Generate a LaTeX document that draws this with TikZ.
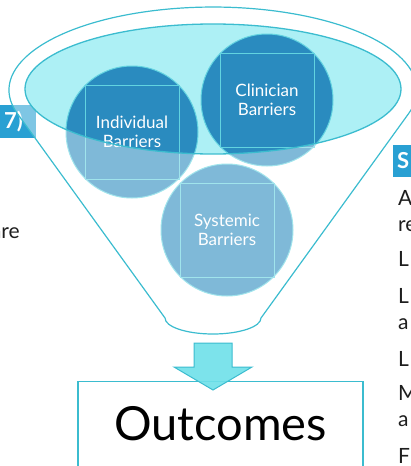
\documentclass[tikz,border=0pt]{standalone}
\usepackage{fontspec}
\setmainfont{Lato}

\definecolor{funnelline}{HTML}{3BBCCF}
\definecolor{mouth}{HTML}{ADF0F5}
\definecolor{barrier}{HTML}{2A8BBF}
\definecolor{rim}{HTML}{62D3E0}
\definecolor{arrowfill}{HTML}{6EE0E9}
\definecolor{tagblue}{HTML}{29A0D3}
\definecolor{bodytext}{HTML}{1E1E1E}

\begin{document}
\begin{tikzpicture}[x=1pt,y=-1pt,
  barrier/.style={circle,draw=rim,line width=1pt,fill=barrier,minimum size=132pt,inner sep=0pt,
    text=white,align=center,font=\fontsize{17}{19}\selectfont},
  tag/.style={fill=tagblue,text=white,inner ysep=0pt,minimum height=33pt,
    font=\fontsize{22}{26}\selectfont\bfseries},
  side/.style={text=bodytext,inner sep=0pt,anchor=base west,font=\fontsize{21}{26}\selectfont}]

\useasboundingbox (0,0) rectangle (410,466);

% headings and text either side of the funnel
\node[tag,anchor=east,inner xsep=13pt] (yearTag) at (36,121.5) {7)};
\node[tag,anchor=west,inner xsep=4pt,minimum height=32pt] (sTag) at (393,161) {S};
\node[side,anchor=base east] (leftText) at (20,238) {are};
\foreach \y/\t [count=\i] in {205/A,231/re,266/L,303/L,329/a,366/L,400/M,426/a,463/F}
  \node[side] (right\i) at (398,\y) {\t};

% mouth of the funnel
\fill[mouth] (213,89) ellipse[x radius=188,y radius=65];

% the three barriers
\node[barrier] (individual) at (132,132) {Individual\\Barriers};
\node[barrier] (clinician) at (267,100) {Clinician\\Barriers};
\node[barrier] (systemic) at (227,230) {Systemic\\Barriers};
\foreach \c in {individual,clinician,systemic}
  \draw[rim,line width=0.8pt] (\c.north west) rectangle (\c.south east);

% funnel body: white glaze outside the mouth, then the outline
\coordinate (lipL) at (17.1,113.2);
\coordinate (neckR) at (261,318);
\fill[white,fill opacity=0.4,even odd rule]
  (lipL) arc[start angle=163.8,end angle=376.2,x radius=204,y radius=83]
  -- (neckR) arc[start angle=0,end angle=180,x radius=48,y radius=16] -- cycle
  (213,89) ellipse[x radius=188,y radius=65];
\draw[funnelline,line width=1.2pt]
  (lipL) arc[start angle=163.8,end angle=376.2,x radius=204,y radius=83]
  -- (neckR) arc[start angle=0,end angle=180,x radius=48,y radius=16] -- cycle;
\draw[funnelline,line width=1.3pt] (213,89) ellipse[x radius=188,y radius=65];

% result box and the block arrow into it
\node[draw=funnelline,line width=1.2pt,anchor=north,minimum width=285pt,inner ysep=25pt,
  text depth=60pt,text=black,font=\fontsize{47}{56}\selectfont] (outcomes) at (220.5,381) {Outcomes};
\draw[funnelline,fill=arrowfill,fill opacity=0.9,line width=1pt]
  (194,343) -- (232,343) -- (232,367) -- (252,367) -- (213,390) -- (174,367) -- (194,367) -- cycle;

\end{tikzpicture}
\end{document}
